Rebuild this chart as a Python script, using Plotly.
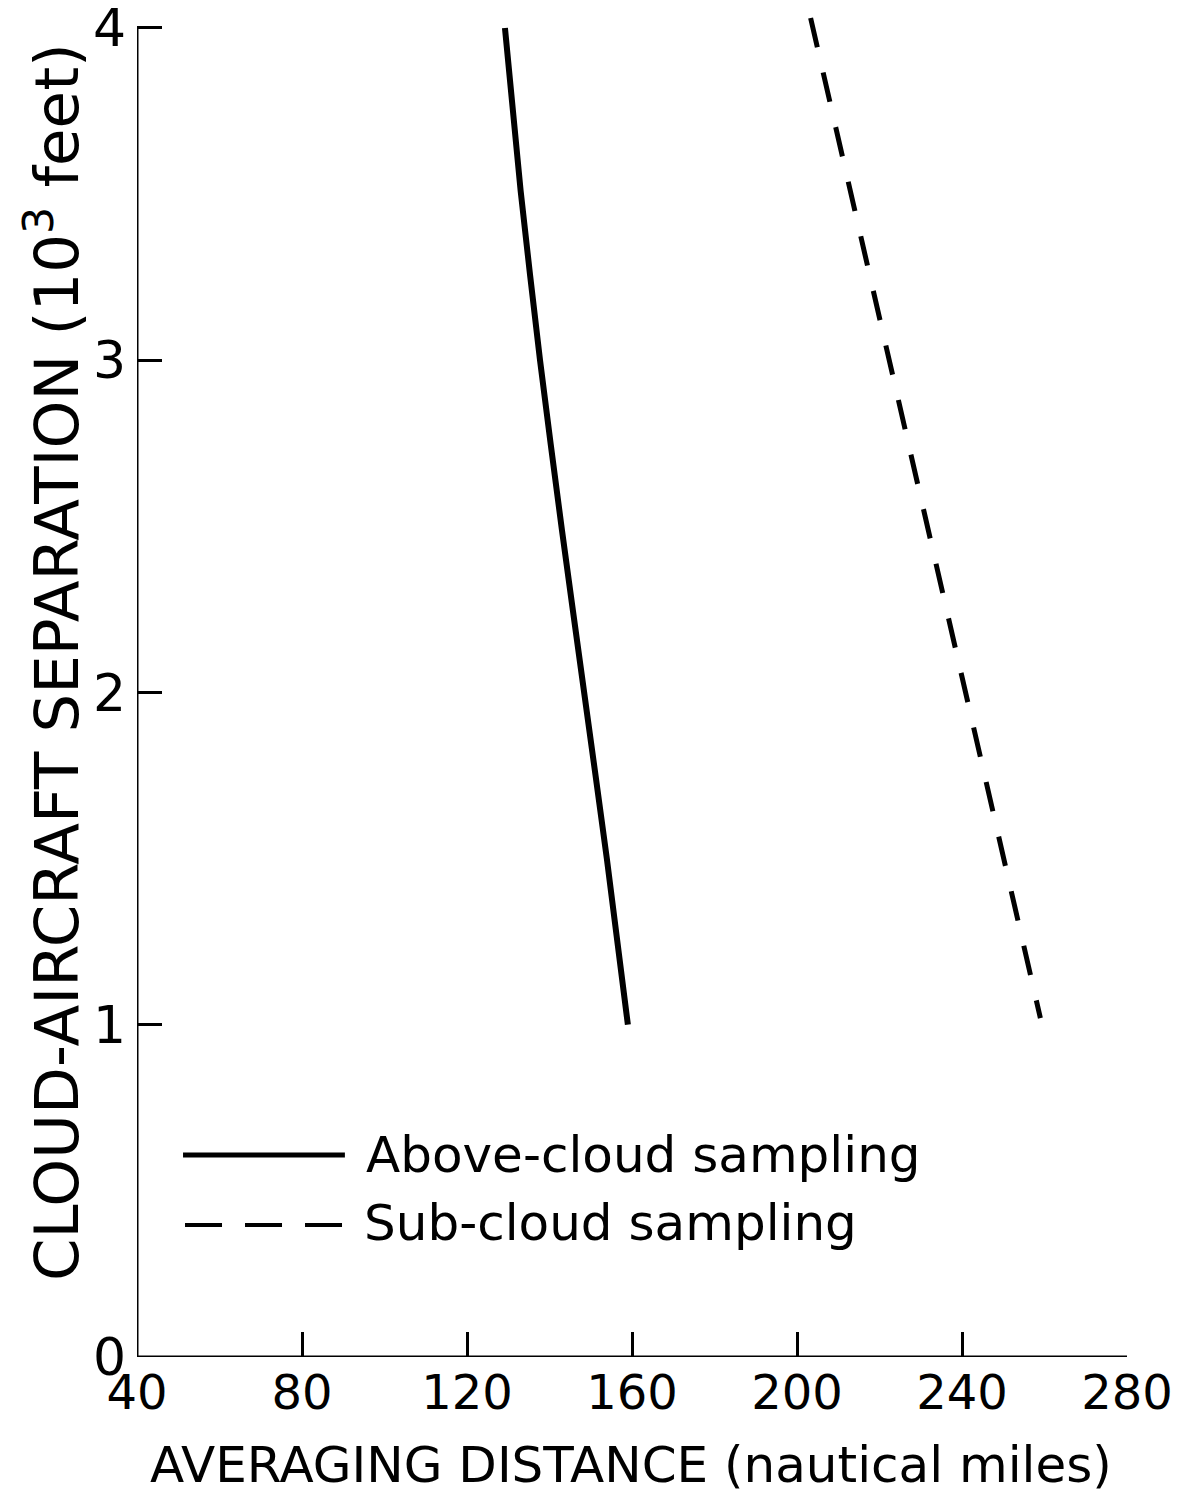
import plotly.graph_objects as go

# Data
above_x = [129.2, 133.0, 137.7, 143.0, 148.4, 153.9, 159.0]
above_y = [4.0, 3.51, 3.0, 2.49, 2.0, 1.5, 1.0]
sub_x = [203.3, 259.0]
sub_y = [4.03, 1.02]

x_ticks = [40, 80, 120, 160, 200, 240, 280]
y_ticks = [0, 1, 2, 3, 4]
y_tick_labels = ["0", "1", "2", "3", "4"]

FONT = "DejaVu Sans"

fig = go.Figure()
fig.add_trace(go.Scatter(x=above_x, y=above_y, mode="lines",
                         line=dict(color="black", width=6, shape="spline", smoothing=0.6),
                         showlegend=False))
fig.add_trace(go.Scatter(x=sub_x, y=sub_y, mode="lines",
                         line=dict(color="black", width=5, dash="30px,26px"), showlegend=False))

# axis lines (frame: left and bottom)
fig.add_shape(type="line", xref="x", yref="y", x0=x_ticks[0], x1=x_ticks[-1], y0=0, y1=0,
              line=dict(color="black", width=3))
fig.add_shape(type="line", xref="x", yref="y", x0=x_ticks[0], x1=x_ticks[0], y0=0, y1=y_ticks[-1],
              line=dict(color="black", width=3))

# legend drawn manually
fig.add_shape(type="line", xref="paper", yref="paper", x0=0.0465, x1=0.210, y0=0.1497, y1=0.1497,
              line=dict(color="black", width=5))
fig.add_shape(type="line", xref="paper", yref="paper", x0=0.0485, x1=0.210, y0=0.0979, y1=0.0979,
              line=dict(color="black", width=4, dash="37px,23px"))
fig.add_annotation(xref="paper", yref="paper", x=0.229, y=0.150, xanchor="left", yanchor="middle",
                   text="Above-cloud sampling", showarrow=False,
                   font=dict(family=FONT, size=50, color="black"))
fig.add_annotation(xref="paper", yref="paper", x=0.227, y=0.099, xanchor="left", yanchor="middle",
                   text="Sub-cloud sampling", showarrow=False,
                   font=dict(family=FONT, size=50, color="black"))

# axis titles
fig.add_annotation(xref="paper", yref="paper", x=0.499, y=-0.080, xanchor="center", yanchor="middle",
                   text="AVERAGING DISTANCE (nautical miles)", showarrow=False,
                   font=dict(family=FONT, size=50, color="black"))
fig.add_annotation(xref="paper", yref="paper", x=-0.085, y=0.515, xanchor="center", yanchor="middle",
                   textangle=-90,
                   text="CLOUD-AIRCRAFT SEPARATION (10<sup>3</sup> feet)", showarrow=False,
                   font=dict(family=FONT, size=61, color="black"))

fig.update_xaxes(range=[40, 280], tickvals=x_ticks, ticktext=[str(v) for v in x_ticks],
                 ticks="inside", ticklen=25, tickwidth=3, tickcolor="black",
                 showline=False, showgrid=False, zeroline=False, automargin=False,
                 ticklabeloverflow="allow",
                 tickfont=dict(family=FONT, size=48, color="black"), ticklabelstandoff=3)
fig.update_yaxes(range=[0, 4.06], tickvals=y_ticks, ticktext=y_tick_labels,
                 ticks="inside", ticklen=25, tickwidth=3, tickcolor="black",
                 showline=False, showgrid=False, zeroline=False, automargin=False,
                 ticklabeloverflow="allow",
                 tickfont=dict(family=FONT, size=52, color="black"), ticklabelstandoff=10)

# page body adds an 8px offset; sizes/margins compensate for it
fig.update_layout(width=1185, height=1487,
                  margin=dict(l=129, r=66, t=0, b=138),
                  plot_bgcolor="white", paper_bgcolor="white",
                  showlegend=False)

fig.write_html("out.html")
